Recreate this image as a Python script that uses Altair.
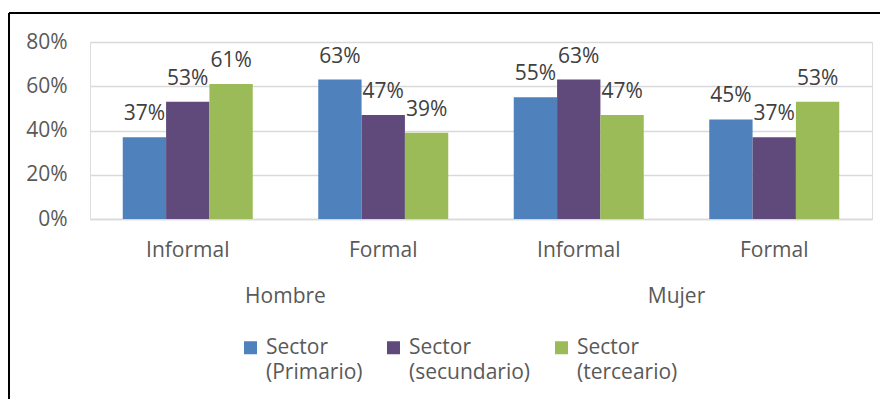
import altair as alt
import pandas as pd

groups = ["Hombre|Informal", "Hombre|Formal", "Mujer|Informal", "Mujer|Formal"]
series = ["Sector|(Primario)", "Sector|(secundario)", "Sector|(terceario)"]
primario = [0.37, 0.63, 0.55, 0.45]
secundario = [0.53, 0.47, 0.63, 0.37]
terceario = [0.61, 0.39, 0.47, 0.53]
genders = ["Hombre", "Mujer"]
y_ticks = [0, 0.2, 0.4, 0.6, 0.8]
colors = ["#4F81BD", "#604A7B", "#9BBB59"]

rows = []
for vals, s in zip([primario, secundario, terceario], series):
    for g, v in zip(groups, vals):
        rows.append({"grupo": g, "sector": s, "valor": v})
df = pd.DataFrame(rows)
gdf = pd.DataFrame({"genero": genders})

FONT = "Open Sans"
FS = 21

x_enc = alt.X("grupo:N", sort=groups, title=None,
              scale=alt.Scale(paddingInner=0.335, paddingOuter=0.1675),
              axis=alt.Axis(labelExpr="split(datum.label, '|')[1]", labelAngle=0,
                            ticks=False, domainColor="#D9D9D9", domainWidth=1.5,
                            labelPadding=20, labelFontSize=FS, labelColor="#595959",
                            labelFont=FONT))
y_enc = alt.Y("valor:Q", title=None,
              scale=alt.Scale(domain=[0, 0.8]),
              axis=alt.Axis(values=y_ticks, format=".0%", ticks=False, domain=False,
                            gridColor="#D9D9D9", gridWidth=1.5, labelPadding=23,
                            labelFontSize=FS, labelColor="#595959", labelFont=FONT))

base = alt.Chart(df).encode(x=x_enc, xOffset=alt.XOffset("sector:N", sort=series))

bars = base.mark_bar().encode(
    y=y_enc,
    color=alt.Color("sector:N", sort=series, scale=alt.Scale(domain=series, range=colors),
                    legend=alt.Legend(title=None, orient="none", legendX=150, legendY=295,
                                      direction="horizontal", columns=3, columnPadding=20,
                                      symbolType="square", symbolSize=169, symbolStrokeWidth=0,
                                      labelExpr="split(datum.label, '|')",
                                      labelFontSize=FS, labelColor="#595959", labelFont=FONT,
                                      labelBaseline="middle", labelOffset=5, padding=0)),
)

labels = base.mark_text(baseline="alphabetic", dy=-17, fontSize=FS, color="#404040",
                        font=FONT).encode(
    y=alt.Y("valor:Q"),
    text=alt.Text("valor:Q", format=".0%"),
)

inner = alt.layer(bars, labels)

gender_text = alt.Chart(gdf).mark_text(fontSize=FS, color="#595959", font=FONT,
                                       baseline="middle").encode(
    x=alt.X("genero:N", sort=genders, axis=None,
            scale=alt.Scale(paddingInner=0, paddingOuter=0)),
    y=alt.value(255),
    text="genero:N",
)

frame_top = alt.Chart(gdf).mark_rule(color="#000000", strokeWidth=2).encode(
    x=alt.value(-81), x2=alt.value(830), y=alt.value(-29))
frame_left = alt.Chart(gdf).mark_rule(color="#000000", strokeWidth=2).encode(
    x=alt.value(-81), y=alt.value(-29), y2=alt.value(400))

chart = alt.layer(inner, gender_text, frame_top, frame_left).resolve_scale(
    x="independent"
).properties(
    width=782, height=177,
    autosize=alt.AutoSizeParams(type="none"),
    padding={"left": 82, "top": 34, "right": 8, "bottom": 180},
).configure_view(stroke=None).configure(
    style={"guide-label": {"lineHeight": 25}}
)

chart.save("out.html", embed_options={"renderer": "svg", "actions": False})
